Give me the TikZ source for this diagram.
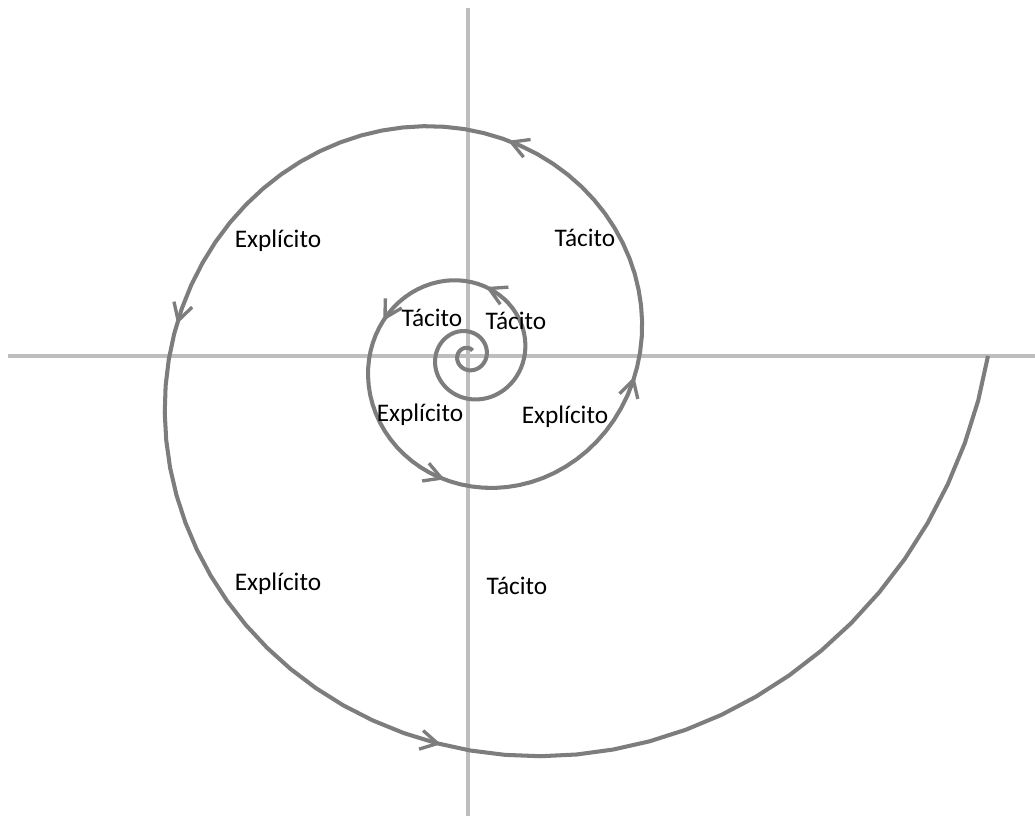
\documentclass[tikz,border=0pt]{standalone}
\usepackage{fontspec}
\setmainfont{Carlito}
\usetikzlibrary{arrows.meta, decorations.markings}
\definecolor{spiralgray}{RGB}{125,125,125}
\definecolor{axisgray}{RGB}{190,190,190}
\tikzset{
  axisline/.style={line width=2pt, color=axisgray},
  spiralline/.style={line width=2.3pt, color=spiralgray, line join=round},
  spiraltip/.tip={Straight Barb[length=3.4mm, width=3.8mm, line width=1.9pt]},
  phaselabel/.style={
    inner sep=0pt, text=black,
    font=\fontsize{14.4}{16}\selectfont
  },
}

\begin{document}
\begin{tikzpicture}
      \useasboundingbox (-9.36,-9.2) rectangle (11.34,7.12);
      \coordinate (axL) at (-9.2,0);
      \coordinate (axR) at (11.34,0);
      \coordinate (axT) at (0,6.96);
      \coordinate (axB) at (0,-9.2);
      \draw[axisline](axL)--(axR);
      \draw[axisline](axT)--(axB);
      \draw[spiralline, postaction={decorate},
            decoration={markings,
              mark=at position 0.125 with {\arrow{spiraltip}},
              mark=at position 0.165 with {\arrow{spiraltip}},
              mark=at position 0.231 with {\arrow{spiraltip}},
              mark=at position 0.313 with {\arrow{spiraltip}},
              mark=at position 0.413 with {\arrow{spiraltip}},
              mark=at position 0.557 with {\arrow{spiraltip}},
              mark=at position 0.745 with {\arrow{spiraltip}}}]
        plot[domain=-1390:0, samples=280, variable=\t]
        ({\t}:{10.4*exp(0.0030848*\t)});
      \node[phaselabel](exp1) at (-3.80, 2.30) {Explícito};
      \node[phaselabel](tac1) at ( 2.34, 2.36) {Tácito};
      \node[phaselabel](tac2) at (-0.72, 0.76) {Tácito};
      \node[phaselabel](tac3) at ( 0.96, 0.70) {Tácito};
      \node[phaselabel](exp2) at (-0.96,-1.18) {Explícito};
      \node[phaselabel](exp3) at ( 1.94,-1.22) {Explícito};
      \node[phaselabel](exp4) at (-3.80,-4.56) {Explícito};
      \node[phaselabel](tac4) at ( 0.98,-4.60) {Tácito};
    \end{tikzpicture}
\end{document}
